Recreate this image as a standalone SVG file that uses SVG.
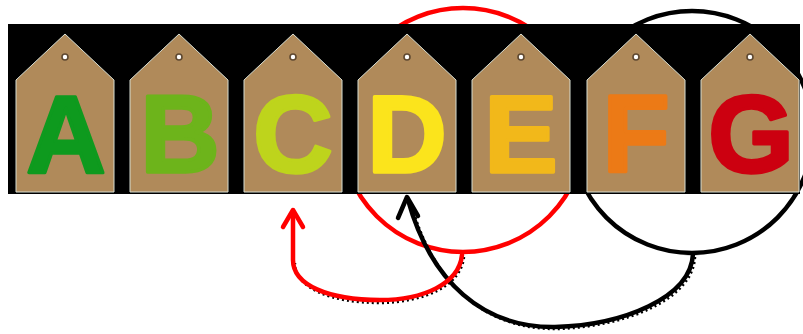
<svg xmlns="http://www.w3.org/2000/svg" width="803" height="334" viewBox="0 0 803 334">
<style>
.tag{fill:#b08a5a;stroke:#d6ddd2;stroke-width:1}
.hole{fill:#ffffff;stroke:#5e4830;stroke-width:1.6}
.lt{font-family:"Liberation Sans",Arial,sans-serif;font-weight:bold;font-size:110px;text-anchor:middle;stroke-width:3.5;stroke-linejoin:round}
.ring{fill:none;stroke-width:4.5}
.arr{fill:none;stroke-width:4.5;stroke-linecap:round;stroke-linejoin:round}
.shadow{fill:none;stroke:#000;stroke-width:2.5;stroke-dasharray:2 3}
</style>
<rect width="803" height="334" fill="#ffffff"/>
<g id="circles">
<circle class="ring" cx="463" cy="130" r="122" stroke="#ff0000"/>
<circle class="ring" cx="692" cy="132" r="121" stroke="#000000"/>
</g>
<rect id="band" x="8" y="24" width="792" height="170" fill="#000000"/>
<g id="tagA"><polygon class="tag" points="16,80 65,34 114,80 114,192 16,192"/><circle class="hole" cx="65" cy="57" r="3"/><text class="lt" x="66" y="172" fill="#0e9a1e" stroke="#0e9a1e">A</text></g>
<g id="tagB"><polygon class="tag" points="130,80 179,34 228,80 228,192 130,192"/><circle class="hole" cx="179" cy="57" r="3"/><text class="lt" x="180" y="172" fill="#6db41b" stroke="#6db41b">B</text></g>
<g id="tagC"><polygon class="tag" points="244,80 293,34 342,80 342,192 244,192"/><circle class="hole" cx="293" cy="57" r="3"/><text class="lt" x="293" y="172" fill="#bed41c" stroke="#bed41c">C</text></g>
<g id="tagD"><polygon class="tag" points="358,80 407,34 456,80 456,192 358,192"/><circle class="hole" cx="407" cy="57" r="3"/><text class="lt" x="407" y="172" fill="#fbe41c" stroke="#fbe41c">D</text></g>
<g id="tagE"><polygon class="tag" points="472,80 521,34 570,80 570,192 472,192"/><circle class="hole" cx="521" cy="57" r="3"/><text class="lt" x="521" y="172" fill="#f2b81a" stroke="#f2b81a">E</text></g>
<g id="tagF"><polygon class="tag" points="587,80 636,34 685,80 685,192 587,192"/><circle class="hole" cx="636" cy="57" r="3"/><text class="lt" x="636" y="172" fill="#ec7a16" stroke="#ec7a16">F</text></g>
<g id="tagG"><polygon class="tag" points="701,80 750,34 799,80 799,192 701,192"/><circle class="hole" cx="750" cy="57" r="3"/><text class="lt" x="751" y="172" fill="#cc0010" stroke="#cc0010">G</text></g>
<g id="connectors">
<path class="shadow" d="M 695 257 C 693 300, 625 327, 557 329 C 485 330, 433 284, 411 203"/>
<path class="arr" stroke="#000000" d="M 693 254 C 691 298, 623 325, 555 327 C 483 328, 431 282, 408 200"/>
<path class="arr" stroke="#000000" d="M 398 218 L 407 197 L 418 216"/>
<path class="shadow" d="M 464 257 C 461 286, 425 302, 381 303 C 330 303, 295 288, 295 263"/>
<path class="arr" stroke="#ff0000" d="M 462 255 C 459 284, 423 300, 380 300 C 328 300, 293 285, 293 260 L 293 212"/>
<path class="arr" stroke="#ff0000" d="M 283 227 L 293 210 L 303 227"/>
</g>
</svg>
